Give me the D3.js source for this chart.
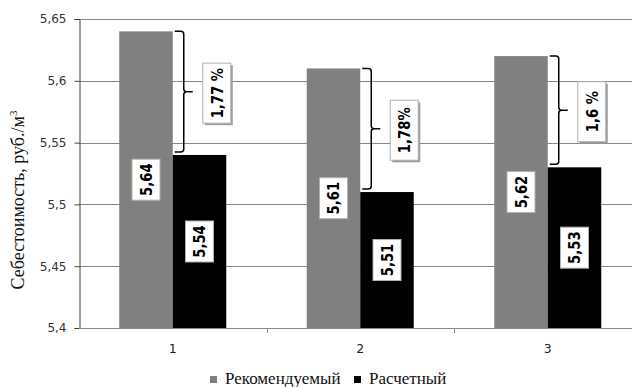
<!DOCTYPE html>
<html><head><meta charset="utf-8">
<script src="https://cdn.jsdelivr.net/npm/d3@7"></script>
<style>body{margin:0;background:#fff}svg{display:block}</style>
</head><body>
<svg id="c" width="632" height="387"></svg>
<script>
const categories = ["1", "2", "3"];
const recommended = [5.64, 5.61, 5.62];
const calculated = [5.54, 5.51, 5.53];
const diffLabels = ["1,77 %", "1,78%", "1,6 %"];
const yTicks = [5.4, 5.45, 5.5, 5.55, 5.6, 5.65];
const seriesNames = ["Рекомендуемый", "Расчетный"];
const colors = ["#808080", "#000000"];

(function () {
const svg = d3.select("#c");
const mLeft = 79, mTop = 19, mBottom = 328, plotRight = 641.5;
const fmt = v => String(v).replace(".", ",");

const y = d3.scaleLinear().domain([5.4, 5.65]).range([mBottom, mTop]);
const x = d3.scaleBand().domain(categories).range([mLeft, plotRight]);
const barW = 53.5;

// gridlines
svg.append("g").selectAll("line").data(yTicks.slice(1)).join("line")
  .attr("x1", mLeft).attr("x2", 632)
  .attr("y1", d => Math.round(y(d)) + 0.5).attr("y2", d => Math.round(y(d)) + 0.5)
  .attr("stroke", "#858585").attr("stroke-width", 1);

// y axis
const yAxis = d3.axisLeft(y).tickValues(yTicks).tickSize(5).tickPadding(8).tickFormat(fmt);
const gy = svg.append("g").attr("transform", `translate(${mLeft + 0.5},0)`).call(yAxis);
gy.select(".domain").attr("stroke", "#404040");
gy.selectAll(".tick line").attr("stroke", "#404040");
gy.selectAll("text").attr("font-family", "DejaVu Sans").attr("font-size", 12).attr("fill", "#333");

// bars
const gBars = svg.append("g");
categories.forEach((c, i) => {
  const cx = x(c) + x.bandwidth() / 2;
  const vals = [recommended[i], calculated[i]];
  vals.forEach((v, j) => {
    const x0 = cx - barW + j * barW;
    gBars.append("rect").attr("x", x0).attr("y", y(v)).attr("width", barW)
      .attr("height", y(5.4) - y(v)).attr("fill", colors[j]);
  });
});

// x axis
const xAxis = d3.axisBottom(x).tickSize(0).tickPadding(16);
const gx = svg.append("g").attr("transform", `translate(0,${mBottom + 0.5})`).call(xAxis);
gx.select(".domain").attr("stroke", "#8a8a8a").attr("d", `M${mLeft},0H632`);
gx.selectAll("text").attr("font-family", "DejaVu Sans").attr("font-size", 12.5).attr("fill", "#222");
svg.append("g").selectAll("line").data(categories.slice(1)).join("line")
  .attr("x1", d => Math.round(x(d)) + 0.5).attr("x2", d => Math.round(x(d)) + 0.5)
  .attr("y1", mBottom).attr("y2", mBottom + 5).attr("stroke", "#8a8a8a");

// value labels
const gLab = svg.append("g");
function vLabel(cx, cy, text, w, h, shadow) {
  const g = gLab.append("g").attr("transform", `translate(${cx},${cy})`);
  if (shadow) g.append("rect").attr("x", -w / 2 + 2).attr("y", -h / 2 + 2).attr("width", w).attr("height", h).attr("fill", "#9a9a9a");
  g.append("rect").attr("x", -w / 2).attr("y", -h / 2).attr("width", w).attr("height", h)
    .attr("fill", "#fff").attr("stroke", "#b0b0b0").attr("stroke-width", 1);
  g.append("text").attr("transform", "rotate(-90) scale(0.88,1.1)").attr("text-anchor", "middle")
    .attr("dy", "0.36em").attr("font-family", "DejaVu Sans").attr("font-weight", "bold")
    .attr("font-size", 15).attr("fill", "#000").text(text);
}
categories.forEach((c, i) => {
  const cx = x(c) + x.bandwidth() / 2;
  vLabel(cx - barW / 2, (y(recommended[i]) + y(5.4)) / 2, fmt(recommended[i]), 28, 41, false);
  vLabel(cx + barW / 2, (y(calculated[i]) + y(5.4)) / 2, fmt(calculated[i]), 28, 41, false);
});

// braces
const gBr = svg.append("g");
categories.forEach((c, i) => {
  const cx = x(c) + x.bandwidth() / 2;
  const t = y(recommended[i]), b = y(calculated[i]) - 3, m = (t + b) / 2;
  const xl = cx + 2, xv = cx + 11, xn = cx + 20, r = 3;
  const p = `M${xl},${t} H${xv - r} Q${xv},${t} ${xv},${t + r} V${m - 3} Q${xv},${m} ${xv + 3},${m} H${xn}` +
    ` M${xv + 3},${m} Q${xv},${m} ${xv},${m + 3} V${b - r} Q${xv},${b} ${xv - r},${b} H${xl}`;
  gBr.append("path").attr("d", p).attr("fill", "none").attr("stroke", "#000").attr("stroke-width", 1.5);
  vLabel(cx + 44, (y(recommended[i]) + y(calculated[i])) / 2, diffLabels[i], 28, 60, true);
});

// y title
svg.append("text").attr("transform", "translate(24,200) rotate(-90)").attr("text-anchor", "middle")
  .attr("font-family", "Liberation Serif").attr("font-size", 18).attr("fill", "#111")
  .text("Себестоимость, руб./м")
  .append("tspan").attr("dy", -7).attr("font-size", 11).text("3");

// legend
const leg = svg.append("g");
const legX = [210, 354];
seriesNames.forEach((n, i) => {
  leg.append("rect").attr("x", legX[i]).attr("y", 376).attr("width", 7).attr("height", 7).attr("fill", colors[i]);
  leg.append("text").attr("x", legX[i] + 15).attr("y", 384).attr("font-family", "Liberation Serif")
    .attr("font-size", 17).attr("fill", "#111").text(n);
});
})();
</script>
</body></html>
